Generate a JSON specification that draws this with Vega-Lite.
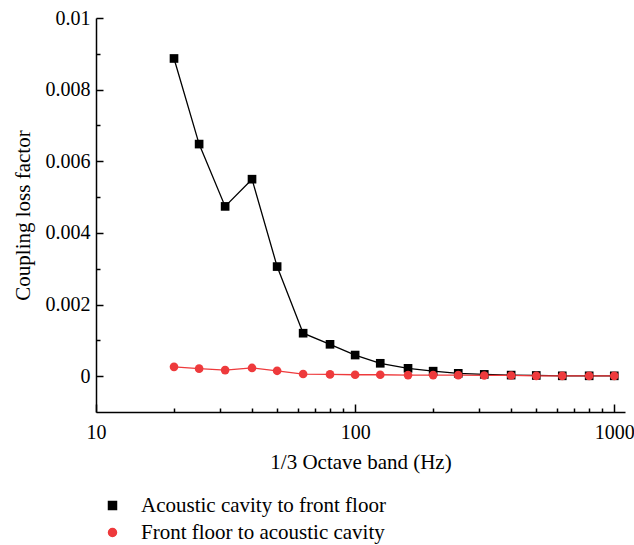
{
  "$schema": "https://vega.github.io/schema/vega-lite/v6.json",
  "width": 529,
  "height": 394,
  "autosize": "none",
  "padding": {"left": 96, "top": 18, "right": 9, "bottom": 133},
  "background": "white",
  "config": {
    "font": "Liberation Serif",
    "view": {"stroke": null},
    "axis": {
      "grid": false,
      "domainColor": "black",
      "tickColor": "black",
      "domainWidth": 1.5,
      "tickWidth": 1.5,
      "labelColor": "black",
      "titleColor": "black",
      "labelFontSize": 20,
      "titleFontSize": 21,
      "titleFontWeight": "normal",
      "labelFont": "Liberation Serif",
      "titleFont": "Liberation Serif",
      "labelFlush": false
    }
  },
  "data": {
    "values": [
      {"freq": 20, "value": 0.00887, "series": "Acoustic cavity to front floor"},
      {"freq": 25, "value": 0.00648, "series": "Acoustic cavity to front floor"},
      {"freq": 31.5, "value": 0.00474, "series": "Acoustic cavity to front floor"},
      {"freq": 40, "value": 0.0055, "series": "Acoustic cavity to front floor"},
      {"freq": 50, "value": 0.00306, "series": "Acoustic cavity to front floor"},
      {"freq": 63, "value": 0.0012, "series": "Acoustic cavity to front floor"},
      {"freq": 80, "value": 0.00089, "series": "Acoustic cavity to front floor"},
      {"freq": 100, "value": 0.00059, "series": "Acoustic cavity to front floor"},
      {"freq": 125, "value": 0.00036, "series": "Acoustic cavity to front floor"},
      {"freq": 160, "value": 0.00022, "series": "Acoustic cavity to front floor"},
      {"freq": 200, "value": 0.00014, "series": "Acoustic cavity to front floor"},
      {"freq": 250, "value": 0.00008, "series": "Acoustic cavity to front floor"},
      {"freq": 315, "value": 0.00005, "series": "Acoustic cavity to front floor"},
      {"freq": 400, "value": 0.00003, "series": "Acoustic cavity to front floor"},
      {"freq": 500, "value": 0.00002, "series": "Acoustic cavity to front floor"},
      {"freq": 630, "value": 0.00001, "series": "Acoustic cavity to front floor"},
      {"freq": 800, "value": 0.00001, "series": "Acoustic cavity to front floor"},
      {"freq": 1000, "value": 0.00001, "series": "Acoustic cavity to front floor"},
      {"freq": 20, "value": 0.00026, "series": "Front floor to acoustic cavity"},
      {"freq": 25, "value": 0.00021, "series": "Front floor to acoustic cavity"},
      {"freq": 31.5, "value": 0.00017, "series": "Front floor to acoustic cavity"},
      {"freq": 40, "value": 0.00023, "series": "Front floor to acoustic cavity"},
      {"freq": 50, "value": 0.00015, "series": "Front floor to acoustic cavity"},
      {"freq": 63, "value": 0.00006, "series": "Front floor to acoustic cavity"},
      {"freq": 80, "value": 0.00005, "series": "Front floor to acoustic cavity"},
      {"freq": 100, "value": 0.00004, "series": "Front floor to acoustic cavity"},
      {"freq": 125, "value": 0.00004, "series": "Front floor to acoustic cavity"},
      {"freq": 160, "value": 0.00003, "series": "Front floor to acoustic cavity"},
      {"freq": 200, "value": 0.00003, "series": "Front floor to acoustic cavity"},
      {"freq": 250, "value": 0.00003, "series": "Front floor to acoustic cavity"},
      {"freq": 315, "value": 0.00002, "series": "Front floor to acoustic cavity"},
      {"freq": 400, "value": 0.00002, "series": "Front floor to acoustic cavity"},
      {"freq": 500, "value": 0.00001, "series": "Front floor to acoustic cavity"},
      {"freq": 630, "value": 0.00001, "series": "Front floor to acoustic cavity"},
      {"freq": 800, "value": 0.00001, "series": "Front floor to acoustic cavity"},
      {"freq": 1000, "value": 0.00001, "series": "Front floor to acoustic cavity"}
    ]
  },
  "layer": [
    {
      "mark": {"type": "line", "strokeWidth": 1.3},
      "encoding": {
        "x": {
          "field": "freq", "type": "quantitative",
          "scale": {"type": "log", "domain": [10, 1100], "nice": false},
          "axis": {
            "orient": "bottom",
            "values": [10, 100, 1000],
            "labelExpr": "toString(datum.value)",
            "tickSize": -8,
            "labelPadding": 18,
            "title": "1/3 Octave band (Hz)",
            "titlePadding": 9
          }
        },
        "y": {
          "field": "value", "type": "quantitative",
          "scale": {"domain": [-0.001, 0.01], "nice": false, "zero": false},
          "axis": {
            "orient": "left",
            "values": [0, 0.002, 0.004, 0.006, 0.008, 0.01],
            "format": "~g",
            "tickSize": -7,
            "labelPadding": 13,
            "title": "Coupling loss factor",
            "titlePadding": 12
          }
        },
        "color": {
          "field": "series", "type": "nominal",
          "scale": {
            "domain": ["Acoustic cavity to front floor", "Front floor to acoustic cavity"],
            "range": ["#000000", "#ee3a3c"]
          }
        },
        "order": {"field": "freq", "type": "quantitative"}
      }
    },
    {
      "mark": {"type": "point", "filled": true, "opacity": 1, "size": 75},
      "encoding": {
        "x": {"field": "freq", "type": "quantitative", "axis": {
            "orient": "bottom",
            "values": [20, 30, 40, 50, 60, 70, 80, 90, 200, 300, 400, 500, 600, 700, 800, 900],
            "tickSize": -4,
            "labels": false,
            "domain": false,
            "title": null
          }},
        "y": {"field": "value", "type": "quantitative", "axis": {
            "orient": "left",
            "values": [0.001, 0.003, 0.005, 0.007, 0.009],
            "tickSize": -4,
            "labels": false,
            "domain": false,
            "title": null
          }},
        "color": {
          "field": "series", "type": "nominal",
          "legend": {
            "orient": "none",
            "legendX": 6,
            "legendY": 477,
            "direction": "vertical",
            "title": null,
            "padding": 0,
            "symbolSize": 64,
            "labelFontSize": 21,
            "labelFont": "Liberation Serif",
            "labelColor": "black",
            "labelOffset": 18,
            "labelLimit": 0,
            "rowPadding": 5,
            "symbolOpacity": 1
          }
        },
        "shape": {
          "field": "series", "type": "nominal",
          "scale": {
            "domain": ["Acoustic cavity to front floor", "Front floor to acoustic cavity"],
            "range": ["square", "circle"]
          },
          "legend": null
        }
      }
    }
  ],
  "resolve": {
    "axis": {"x": "independent", "y": "independent"}
  }
}
